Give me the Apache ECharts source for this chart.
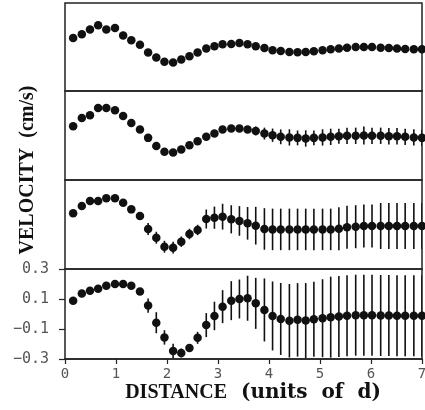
<!DOCTYPE html>
<html>
<head>
<meta charset="utf-8">
<script src="https://cdn.jsdelivr.net/npm/echarts@6/dist/echarts.min.js"></script>
<style>
    html, body { margin: 0; padding: 0; background: #fff; }
    #chart { width: 425px; height: 410px; }
</style>
</head>
<body>
<div id="chart"></div>
<script>
// sample positions along the channel (units of d)
const distance = [0.16, 0.33, 0.49, 0.65, 0.81, 0.98, 1.14, 1.30, 1.47, 1.63, 1.79, 1.95, 2.12, 2.28, 2.44,
    2.60, 2.77, 2.93, 3.09, 3.26, 3.42, 3.58, 3.74, 3.91, 4.07, 4.23, 4.40, 4.56, 4.72, 4.88, 5.05, 5.21,
    5.37, 5.53, 5.70, 5.86, 6.02, 6.19, 6.35, 6.51, 6.67, 6.84, 7.00];

// velocity (cm/s), one array per panel, top to bottom
const velocity1 = [0.061, 0.087, 0.119, 0.148, 0.119, 0.130, 0.078, 0.046, 0.016, -0.038, -0.072, -0.100,
    -0.106, -0.086, -0.063, -0.038, -0.011, 0.005, 0.018, 0.020, 0.027, 0.018, 0.005, -0.007, -0.022,
    -0.027, -0.034, -0.036, -0.034, -0.029, -0.022, -0.016, -0.011, -0.005, 0.000, 0.000, 0.000, -0.005,
    -0.007, -0.011, -0.014, -0.016, -0.016];
const velocity2 = [0.062, 0.118, 0.136, 0.185, 0.185, 0.170, 0.132, 0.085, 0.040, -0.016, -0.070, -0.110,
    -0.114, -0.094, -0.065, -0.038, -0.009, 0.013, 0.040, 0.047, 0.047, 0.040, 0.031, 0.013, 0.002,
    -0.009, -0.013, -0.016, -0.020, -0.016, -0.013, -0.009, -0.005, -0.002, -0.002, 0.000, -0.002, -0.002,
    -0.005, -0.005, -0.009, -0.013, -0.016];
const velocity3 = [0.076, 0.125, 0.158, 0.158, 0.177, 0.177, 0.147, 0.102, 0.057, -0.030, -0.089, -0.150,
    -0.156, -0.116, -0.064, -0.037, 0.037, 0.046, 0.053, 0.035, 0.024, 0.008, -0.008, -0.030, -0.033,
    -0.033, -0.033, -0.033, -0.033, -0.033, -0.033, -0.033, -0.028, -0.019, -0.015, -0.010, -0.010, -0.010,
    -0.010, -0.010, -0.010, -0.010, -0.010];
const velocity4 = [0.088, 0.137, 0.155, 0.168, 0.188, 0.200, 0.200, 0.188, 0.150, 0.056, -0.058, -0.156,
    -0.246, -0.260, -0.226, -0.159, -0.074, -0.013, 0.049, 0.089, 0.100, 0.105, 0.071, 0.027, -0.013,
    -0.033, -0.045, -0.039, -0.044, -0.035, -0.028, -0.021, -0.017, -0.012, -0.008, -0.008, -0.008, -0.010,
    -0.010, -0.012, -0.012, -0.012, -0.012];

// half-length of the error bars, same order
const error1 = [0, 0, 0, 0, 0, 0, 0, 0, 0, 0, 0, 0, 0, 0, 0, 0, 0, 0, 0, 0, 0, 0, 0, 0, 0, 0, 0, 0, 0, 0,
    0, 0, 0, 0, 0, 0, 0, 0, 0, 0, 0, 0, 0];
const error2 = [0, 0, 0, 0, 0, 0, 0, 0, 0, 0, 0, 0, 0, 0, 0, 0, 0, 0, 0, 0, 0, 0.02, 0.03, 0.04, 0.045,
    0.05, 0.055, 0.05, 0.055, 0.05, 0.055, 0.055, 0.05, 0.055, 0.055, 0.06, 0.055, 0.055, 0.055, 0.055,
    0.055, 0.055, 0.055];
const error3 = [0, 0, 0, 0, 0, 0, 0, 0, 0, 0.04, 0.04, 0.04, 0.04, 0.035, 0.035, 0.035, 0.064, 0.075,
    0.087, 0.095, 0.10, 0.11, 0.127, 0.14, 0.14, 0.14, 0.14, 0.14, 0.14, 0.14, 0.14, 0.14, 0.145, 0.145,
    0.145, 0.145, 0.145, 0.155, 0.155, 0.155, 0.155, 0.155, 0.155];
const error4 = [0, 0, 0, 0, 0, 0, 0, 0, 0, 0.047, 0.07, 0.048, 0.047, 0.03, 0.02, 0.04, 0.08, 0.095, 0.11,
    0.13, 0.13, 0.15, 0.17, 0.21, 0.23, 0.24, 0.245, 0.245, 0.25, 0.25, 0.26, 0.27, 0.27, 0.27, 0.27, 0.27,
    0.27, 0.27, 0.27, 0.27, 0.27, 0.27, 0.27];

const velocityTicks = [0.3, 0.1, -0.1, -0.3];
const distanceTicks = [0, 1, 2, 3, 4, 5, 6, 7];

const panels = [
    { velocity: velocity1, error: error1 },
    { velocity: velocity2, error: error2 },
    { velocity: velocity3, error: error3 },
    { velocity: velocity4, error: error4 }
];

const ink = '#111';
const labelFont = 'DejaVu Sans Mono';
const panelTops = [3, 91, 180, 269];
const panelHeights = [88, 89, 89, 90];
const last = panels.length - 1;

const chart = echarts.init(document.getElementById('chart'));

// v6 shrinks grids to keep labels inside unless told not to
const grid = panels.map((p, i) => ({
    left: 65,
    right: 3,
    top: panelTops[i],
    height: panelHeights[i],
    show: true,
    borderColor: '#222',
    borderWidth: 1.5,
    outerBoundsMode: 'none',
    containLabel: false
}));

const xAxis = panels.map((p, i) => ({
    type: 'value',
    gridIndex: i,
    min: 0,
    max: 7,
    interval: 1,
    axisLine: { show: i === last, onZero: false, lineStyle: { color: '#222', width: 1.5 } },
    axisTick: { show: i === last, inside: false, length: 5, lineStyle: { color: '#222', width: 1.2 } },
    axisLabel: {
        show: i === last,
        margin: 8,
        color: '#555',
        fontFamily: labelFont,
        fontSize: 14,
        formatter: v => distanceTicks.includes(v) ? String(v) : ''
    },
    splitLine: { show: false }
}));

const yAxis = panels.map((p, i) => ({
    type: 'value',
    gridIndex: i,
    min: -0.3,
    max: 0.3,
    axisLine: { show: false, onZero: false },
    axisTick: {
        show: i === last,
        length: 6,
        customValues: velocityTicks,
        lineStyle: { color: '#222', width: 1.2 }
    },
    axisLabel: {
        show: i === last,
        margin: 16,
        color: '#555',
        fontFamily: labelFont,
        fontSize: 15,
        customValues: velocityTicks,
        formatter: v => (v < 0 ? '\u2212' : '') + Math.abs(v).toFixed(1)
    },
    splitLine: { show: false }
}));

const series = [];
panels.forEach((p, i) => {
    series.push({
        type: 'custom',
        xAxisIndex: i,
        yAxisIndex: i,
        clip: true,
        encode: { x: 0, y: 1 },
        data: distance.map((d, k) => [d, p.velocity[k], p.error[k]]),
        renderItem: (params, api) => {
            const e = api.value(2);
            if (!e) return null;
            const top = api.coord([api.value(0), api.value(1) + e]);
            const bottom = api.coord([api.value(0), api.value(1) - e]);
            return {
                type: 'line',
                shape: { x1: top[0], y1: top[1], x2: bottom[0], y2: bottom[1] },
                style: { stroke: ink, lineWidth: 1.6 }
            };
        },
        silent: true
    });
    series.push({
        type: 'scatter',
        xAxisIndex: i,
        yAxisIndex: i,
        symbol: 'circle',
        symbolSize: 8.5,
        itemStyle: { color: ink, opacity: 1 },
        data: distance.map((d, k) => [d, p.velocity[k]]),
        silent: true
    });
});

chart.setOption({
    backgroundColor: '#fff',
    animation: false,
    grid: grid,
    xAxis: xAxis,
    yAxis: yAxis,
    series: series,
    graphic: [
        {
            type: 'text',
            x: 253,
            y: 393,
            style: {
                text: '{a|DISTANCE}{b|  (units  of  d)}',
                rich: {
                    a: { font: 'bold 20px "Liberation Serif"', fill: '#111' },
                    b: { font: 'bold 20px "DejaVu Serif"', fill: '#111' }
                },
                align: 'center',
                verticalAlign: 'middle'
            }
        },
        {
            type: 'text',
            x: 28,
            y: 170,
            rotation: Math.PI / 2,
            style: {
                text: 'VELOCITY  (cm/s)',
                font: 'bold 20px "Liberation Serif"',
                fill: '#111',
                align: 'center',
                verticalAlign: 'middle'
            }
        }
    ]
});
</script>
</body>
</html>
